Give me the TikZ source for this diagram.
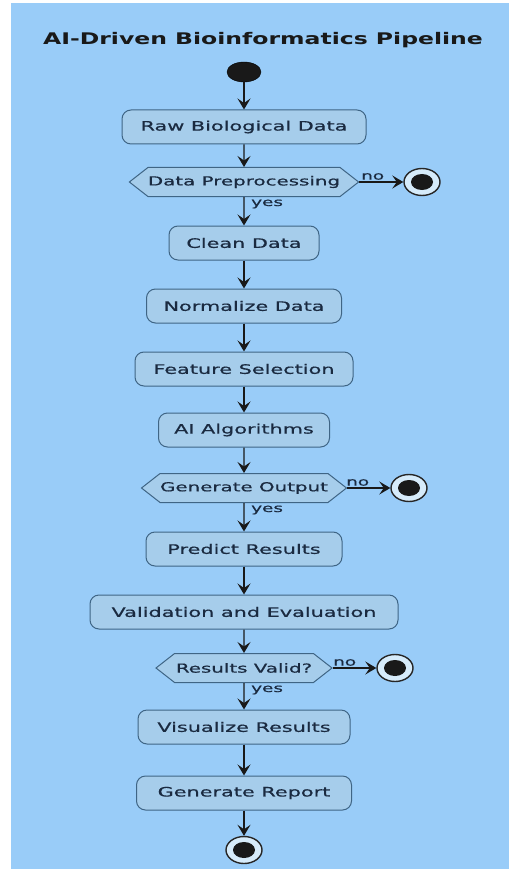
\documentclass[tikz,border=0pt]{standalone}
\usepackage{fontspec}
\usetikzlibrary{arrows.meta,shapes.geometric,shapes.symbols}
\newfontfamily\boxfont[FakeStretch=1.6,FakeBold=0.6]{DejaVu Sans}
\newfontfamily\titlefont[FakeStretch=1.47]{DejaVu Sans Bold}
\definecolor{bgblue}{HTML}{99CCF8}
\definecolor{boxfill}{HTML}{A6CDEB}
\definecolor{boxline}{HTML}{3F6585}
\definecolor{txt}{HTML}{1A2A40}
\definecolor{ringfill}{HTML}{D6EBFA}
\tikzset{
  actbox/.style={rounded corners=9pt, draw=boxline, fill=boxfill, line width=1pt,
    minimum height=34pt, inner sep=0pt, text=txt, font=\boxfont\fontsize{13}{15}\selectfont},
  decbox/.style={signal, signal to=west and east, signal pointer angle=76,
    draw=boxline, fill=boxfill, line width=1pt, minimum height=29pt, inner sep=0pt,
    text=txt, font=\boxfont\fontsize{12.4}{14}\selectfont},
  startdot/.style={ellipse, fill=black!90, draw=black, minimum width=34pt, minimum height=20pt, inner sep=0pt},
  endring/.style={ellipse, draw=black!85, line width=1.4pt, fill=ringfill, minimum width=36pt, minimum height=27pt, inner sep=0pt},
  enddot/.style={ellipse, fill=black!90, minimum width=22pt, minimum height=16pt, inner sep=0pt},
  flow/.style={-{Stealth[length=11pt,width=13pt,inset=4.5pt]}, line width=1.3pt, draw=black!90},
  lab/.style={text=txt, inner sep=0pt, font=\boxfont\fontsize{11.5}{13}\selectfont}
}
\begin{document}
\begin{tikzpicture}[x=1pt,y=-1pt]
% page and background
\path[use as bounding box, fill=white] (0,0) rectangle (509,869);
\fill[bgblue] (11,3) rectangle (509,869);

% title
\node[text=black!90, font=\titlefont\fontsize{16}{19}\selectfont] (title) at (263,40) {AI-Driven Bioinformatics Pipeline};

% activity nodes, all on one column
\node[startdot] (start) at (244,72) {};
\node[actbox, minimum width=244pt] (raw) at (244,127) {Raw Biological Data};
\node[decbox, minimum width=229pt] (dp) at (244,182) {Data Preprocessing};
\node[endring] (e1) at (422,182) {};
\node[enddot] at (e1) {};
\node[actbox, minimum width=150pt] (clean) at (244,243) {Clean Data};
\node[actbox, minimum width=195pt] (norm) at (244,306) {Normalize Data};
\node[actbox, minimum width=218pt] (feat) at (244,369) {Feature Selection};
\node[actbox, minimum width=171pt] (ai) at (244,430) {AI Algorithms};
\node[decbox, minimum width=197pt] (go) at (244,488) {Generate Output};
\node[endring] (e2) at (409,488) {};
\node[enddot] at (e2) {};
\node[actbox, minimum width=196pt] (pred) at (244,549) {Predict Results};
\node[actbox, minimum width=308pt] (val) at (244,612) {Validation and Evaluation};
\node[decbox, minimum width=176pt] (rv) at (244,668) {Results Valid?};
\node[endring] (e3) at (395,668) {};
\node[enddot] at (e3) {};
\node[actbox, minimum width=212pt] (vis) at (244,727) {Visualize Results};
\node[actbox, minimum width=215pt] (rep) at (244,793) {Generate Report};
\node[endring] (e4) at (244,850) {};
\node[enddot] at (e4) {};

% connectors
\draw[flow] (start) -- (raw);
\draw[flow] (raw) -- (dp);
\draw[flow] (dp.east) -- (e1);
\draw[flow] (dp) -- (clean);
\draw[flow] (clean) -- (norm);
\draw[flow] (norm) -- (feat);
\draw[flow] (feat) -- (ai);
\draw[flow] (ai) -- (go);
\draw[flow] (go.east) -- (e2);
\draw[flow] (go) -- (pred);
\draw[flow] (pred) -- (val);
\draw[flow] (val) -- (rv);
\draw[flow] (rv.east) -- (e3);
\draw[flow] (rv) -- (vis);
\draw[flow] (vis) -- (rep);
\draw[flow] (rep) -- (e4);

% branch labels
\node[lab, anchor=south west] (no1) at (361,180) {no};
\node[lab, anchor=west] (yes1) at (251,204) {yes};
\node[lab, anchor=south west] (no2) at (346,486) {no};
\node[lab, anchor=west] (yes2) at (251,510) {yes};
\node[lab, anchor=south west] (no3) at (333,666) {no};
\node[lab, anchor=west] (yes3) at (251,690) {yes};
\end{tikzpicture}
\end{document}
